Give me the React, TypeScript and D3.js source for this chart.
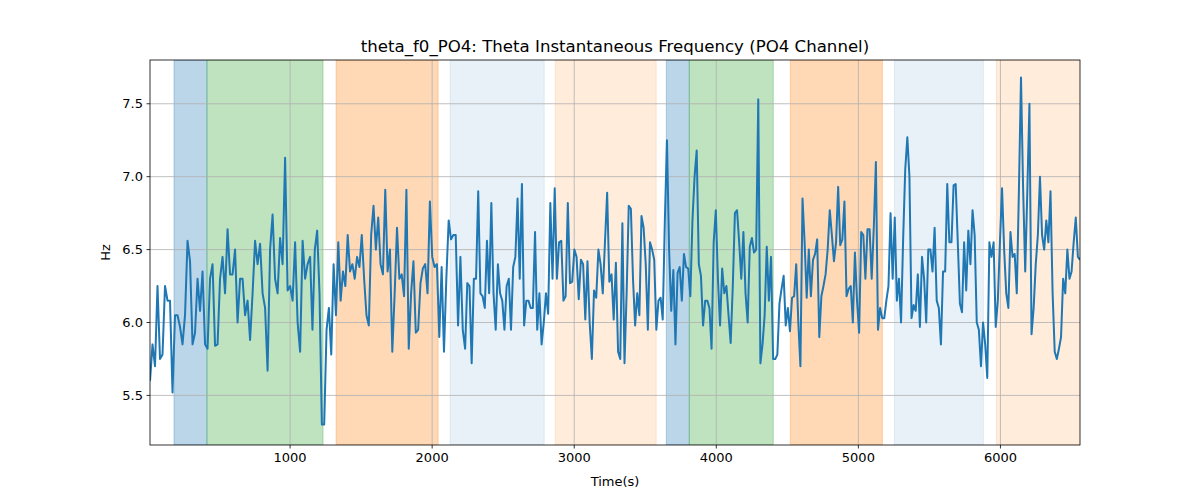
import React from "react";
import * as d3 from "d3";

const segBounds = [14, 1141, 2232, 3324, 4415, 5507, 6560];
const seg1 = [5.6,5.85,5.7,6.25,5.75,5.78,6.25,6.15,6.15,5.52,6.05,6.05,5.97,5.85,6.05,6.56,6.42,5.85,5.93,6.3,6.08,6.35,5.85,5.82,6.3,6.4,5.84,5.85,6.3,6.45,6.2,6.64,6.33,6.33,6.5,6.0,6.3,6.3,6.05,6.15,5.88,6.2,6.56,6.4,6.54,6.2,6.1,5.67,6.5,6.74,6.3,6.2,6.58,6.4,7.13,6.22,6.25,6.15,6.55,6.0,5.8,6.56,6.3,6.4];
const seg2 = [6.45,5.95,6.5,6.63,6.2,5.3,5.3,5.95,6.1,5.78,6.4,6.05,6.55,6.15,6.35,6.25,6.6,6.35,6.4,6.3,6.45,6.38,6.6,6.3,6.05,5.98,6.6,6.8,6.5,6.72,6.4,6.33,6.91,6.35,6.5,5.8,6.2,6.65,6.3,6.33,6.18,6.91,5.82,6.2,6.42,5.93,5.95,6.27,6.37,6.4,6.2,6.83,6.45,6.38,6.4,5.9,6.38,5.8,6.3,6.7,6.57,6.6,6.6,5.98,6.45,5.95];
const seg3 = [5.82,6.27,6.25,5.72,6.3,6.3,6.9,6.2,6.18,6.1,6.56,6.2,6.82,6.2,5.95,6.4,6.2,6.15,5.95,6.25,6.3,5.95,6.38,6.45,6.85,6.3,6.95,5.98,6.15,6.15,6.1,6.1,6.62,5.95,6.2,5.85,6.0,6.2,6.06,6.82,6.3,6.92,6.3,6.55,6.56,6.15,6.18,6.82,6.27,6.28,6.5,6.45,6.16,6.43,6.4,6.02,6.42,6.0,5.75,6.22,6.17,6.5,6.4,6.2,6.55,6.89,6.28,6.33,6.02,6.41,5.8];
const seg4 = [5.75,6.68,5.72,6.2,6.8,6.78,6.3,5.98,6.2,6.05,6.73,6.65,6.4,5.95,6.55,6.5,6.43,5.95,6.15,6.17,6.02,6.7,7.25,6.5,6.08,6.36,5.85,6.34,6.38,6.15,6.47,6.38,6.37,6.18,6.7,7.0,7.18,6.4,6.32,5.98,6.15,6.15,6.1,5.82,6.55,6.77,6.3,5.98,6.37,6.2,6.25,6.05,5.86,6.25,6.75,6.77,6.55,6.3,6.62,6.2,6.0,6.52,6.58,6.48,6.5,7.53,5.72,5.85,6.05,6.52,6.15,6.45,5.75];
const seg5 = [5.75,5.78,6.13,6.23,6.32,5.98,6.1,5.94,6.17,6.18,6.4,6.0,5.7,6.85,6.55,6.17,6.5,6.18,6.43,6.47,6.57,5.9,6.18,6.25,6.33,6.5,6.77,6.6,6.42,6.55,6.93,6.53,6.57,6.83,6.18,6.23,6.25,6.0,6.48,6.15,5.93,6.62,6.6,6.3,6.64,6.64,6.3,6.65,7.1,5.95,6.1,6.03,6.03,6.15,6.25,6.75,6.3,6.72,6.15,6.3,6.0,6.57,7.05,7.27,7.0,6.03,6.12,6.08,6.33,5.97,6.45,6.3,6.0,6.5];
const seg6 = [6.5,6.35,6.65,6.15,6.1,5.85,6.35,6.35,6.95,6.55,6.55,6.94,6.95,6.55,6.13,6.07,6.55,6.22,6.63,6.4,6.77,6.6,6.0,5.95,5.7,6.0,5.85,5.62,6.55,6.45,6.55,5.97,6.15,6.55,6.92,6.5,6.2,6.1,6.62,6.45,6.47,6.2,6.9,7.68,6.92,6.35,6.9,7.5,5.92,6.1,6.4,6.6,7.0,6.6,6.5,6.7,6.55,6.9,6.2,5.8,5.75,5.82,5.9,6.3,6.2,6.5,6.3,6.35,6.55,6.72,6.45];
const segments = [seg1, seg2, seg3, seg4, seg5, seg6];

const spanStarts = [183, 415, 1324, 2127, 2866, 3648, 3810, 4521, 5254, 5972];
const spanEnds = [415, 1232, 2042, 2789, 3577, 3810, 4401, 5169, 5880, 6563];
const spanColors = ["#1f77b4", "#2ca02c", "#ff7f0e", "#1f77b4", "#ff7f0e", "#1f77b4", "#2ca02c", "#ff7f0e", "#1f77b4", "#ff7f0e"];
const spanAlphas = [0.3, 0.3, 0.3, 0.1, 0.15, 0.3, 0.3, 0.3, 0.1, 0.15];

const xTicks = [1000, 2000, 3000, 4000, 5000, 6000];
const yTicks = [5.5, 6.0, 6.5, 7.0, 7.5];

export default function App() {
  const L = 150, R = 1080, T = 60, B = 445;
  const x = d3.scaleLinear().domain([14, 6560]).range([L, R]);
  const y = d3.scaleLinear().domain([5.16, 7.8]).range([B, T]);
  const pts: [number, number][] = [];
  segments.forEach((s, k) => {
    const t0 = segBounds[k], t1 = segBounds[k + 1];
    const n = s.length;
    s.forEach((v, i) => pts.push([t0 + ((t1 - t0) * i) / n, v]));
  });
  pts.push([6560, 6.43]);
  const line = d3.line<[number, number]>().x(d => x(d[0])).y(d => y(d[1]));
  const font = "DejaVu Sans, sans-serif";
  return (
    <div style={{ position: "absolute", left: 0, top: 0 }}>
      <svg width={1200} height={500} style={{ display: "block", fontFamily: font }}>
        <rect width={1200} height={500} fill="#fff" />
        <defs>
          <clipPath id="pc"><rect x={L} y={T} width={R - L} height={B - T} /></clipPath>
        </defs>
        <g clipPath="url(#pc)">
          {spanStarts.map((s, i) => (
            <rect key={i} x={x(s)} y={T} width={x(spanEnds[i]) - x(s)} height={B - T}
              fill={spanColors[i]} fillOpacity={spanAlphas[i]} stroke={spanColors[i]} strokeOpacity={spanAlphas[i]} />
          ))}
          {xTicks.map(t => <line key={t} x1={x(t)} x2={x(t)} y1={T} y2={B} stroke="#b0b0b0" strokeWidth={0.8} />)}
          {yTicks.map(t => <line key={t} x1={L} x2={R} y1={y(t)} y2={y(t)} stroke="#b0b0b0" strokeWidth={0.8} />)}
          <path d={line(pts) || ""} fill="none" stroke="#1f77b4" strokeWidth={2} strokeLinejoin="round" />
        </g>
        <rect x={L} y={T} width={R - L} height={B - T} fill="none" stroke="#000" strokeWidth={0.8} />
        {xTicks.map(t => (
          <g key={t}>
            <line x1={x(t)} x2={x(t)} y1={B} y2={B + 3.5} stroke="#000" strokeWidth={0.8} />
            <text x={x(t)} y={B + 17} textAnchor="middle" fontSize={13}>{t}</text>
          </g>
        ))}
        {yTicks.map(t => (
          <g key={t}>
            <line x1={L - 3.5} x2={L} y1={y(t)} y2={y(t)} stroke="#000" strokeWidth={0.8} />
            <text x={L - 7} y={y(t) + 4.5} textAnchor="end" fontSize={13}>{t.toFixed(1)}</text>
          </g>
        ))}
        <text x={(L + R) / 2} y={486} textAnchor="middle" fontSize={13}>Time(s)</text>
        <text transform={`translate(110,${(T + B) / 2}) rotate(-90)`} textAnchor="middle" fontSize={13}>Hz</text>
        <text x={(L + R) / 2} y={52} textAnchor="middle" fontSize={16.6}>theta_f0_PO4: Theta Instantaneous Frequency (PO4 Channel)</text>
      </svg>
    </div>
  );
}
